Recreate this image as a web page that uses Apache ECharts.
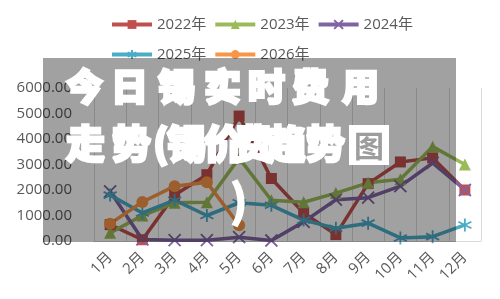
<!DOCTYPE html>
<html>
<head>
<meta charset="utf-8">
<script src="https://cdn.jsdelivr.net/npm/echarts@6/dist/echarts.min.js"></script>
<style>
  html, body { margin: 0; padding: 0; background: #fff; }
  #chart { width: 500px; height: 299px; }
</style>
</head>
<body>
<div id="chart"></div>
<script>
// 月份
const months = ['1月', '2月', '3月', '4月', '5月', '6月', '7月', '8月', '9月', '10月', '11月', '12月'];
// 各年数据
const y2022 = [640, 50, 1800, 2600, 4900, 2450, 1100, 250, 2250, 3100, 3260, 2000];
const y2023 = [320, 1000, 1500, 1520, 3250, 1600, 1520, 1880, 2280, 2420, 3700, 3000];
const y2024 = [1950, 60, 30, 30, 150, 20, 750, 1620, 1700, 2150, 3060, 2000];
const y2025 = [1800, 1100, 1600, 1000, 1500, 1400, 820, 500, 700, 120, 170, 630];
const y2026 = [680, 1530, 2150, 2300, 620, null, null, null, null, null, null, null];
const yTicks = [0, 1000, 2000, 3000, 4000, 5000, 6000];

const font = 'Open Sans, Noto Sans CJK SC, sans-serif';
const crossPath = 'path://M0,0L10,10M10,0L0,10';
const starPath = 'path://M5,0L5,10M0.7,2.5L9.3,7.5M9.3,2.5L0.7,7.5';

function line(name, data, color, symbol, size, stroke) {
    return {
        name: name,
        type: 'line',
        data: data,
        symbol: symbol,
        symbolSize: size,
        connectNulls: false,
        lineStyle: { color: color, width: 3.5 },
        itemStyle: stroke
            ? { color: 'rgba(0,0,0,0)', borderColor: color, borderWidth: 1.8 }
            : { color: color, borderColor: color, borderWidth: 0 }
    };
}

// 遮罩上的标题字（逐字摆放）
const row1 = [['今', 66], ['日', 111], ['锡', 158], ['实', 204], ['时', 248], ['费', 292], ['用', 342]];
const row2 = [['走', 66], ['势', 112], ['(', 153], ['锡', 167], ['价', 204], ['费', 234], ['趋', 267], ['势', 306]];
const titleStyle = (t, size) => ({
    text: t, fill: '#fff', stroke: '#fff', lineWidth: 2.5,
    font: '900 ' + size + 'px "Noto Sans CJK SC"', textVerticalAlign: 'middle'
});
const graphics = [{
    type: 'rect', z: 100,
    shape: { x: 43, y: 58, width: 413, height: 184 },
    style: { fill: 'rgba(0,0,0,0.37)' }
}];
row1.forEach(([t, x]) => graphics.push({ type: 'text', z: 101, x: x, y: 87, style: titleStyle(t, 37) }));
row2.forEach(([t, x]) => graphics.push({ type: 'text', z: 101, x: x, y: 143, style: titleStyle(t, 39) }));
graphics.push({
    type: 'rect', z: 101,
    shape: { x: 349, y: 125, width: 40, height: 40 },
    style: { fill: '#fff' }
});
graphics.push({
    type: 'text', z: 102, x: 369, y: 146,
    style: { text: '图', fill: '#9d9d9d', font: 'bold 30px "Noto Sans CJK SC"', textAlign: 'center', textVerticalAlign: 'middle' }
});
graphics.push({
    type: 'text', z: 101, x: 239, y: 200,
    style: { text: ')', fill: '#fff', stroke: '#fff', lineWidth: 2, font: 'bold 44px "Noto Sans CJK SC"', textAlign: 'center', textVerticalAlign: 'middle' }
});

const chart = echarts.init(document.getElementById('chart'));
chart.setOption({
    animation: false,
    backgroundColor: '#fff',
    legend: {
        left: 105, top: 8, width: 320,
        itemWidth: 40, itemHeight: 11, itemGap: 7,
        lineStyle: { width: 4 },
        textStyle: { color: '#595959', fontSize: 15, fontFamily: font, lineHeight: 23 }
    },
    grid: { left: 94, right: 19, top: 88, bottom: 58 },
    xAxis: {
        type: 'category',
        data: months,
        boundaryGap: true,
        axisLine: { lineStyle: { color: '#d9d9d9' } },
        axisTick: { show: false },
        splitLine: { show: true, interval: 0, lineStyle: { color: '#d9d9d9' } },
        axisLabel: { interval: 0, rotate: 45, margin: 14, color: '#595959', fontSize: 15, fontFamily: font }
    },
    yAxis: {
        type: 'value',
        min: yTicks[0], max: yTicks[yTicks.length - 1], interval: 1000,
        axisLine: { show: false },
        axisTick: { show: false },
        splitLine: { show: false },
        axisLabel: { margin: 22, color: '#595959', fontSize: 15, fontFamily: font, formatter: v => v.toFixed(2) }
    },
    series: [
        line('2022年', y2022, '#c0504d', 'rect', 11, false),
        line('2023年', y2023, '#9bbb59', 'triangle', 12, false),
        line('2024年', y2024, '#8064a2', crossPath, 12, true),
        line('2025年', y2025, '#4bacc6', starPath, 13, true),
        line('2026年', y2026, '#f79646', 'circle', 12, false)
    ],
    graphic: graphics
});
</script>
</body>
</html>
